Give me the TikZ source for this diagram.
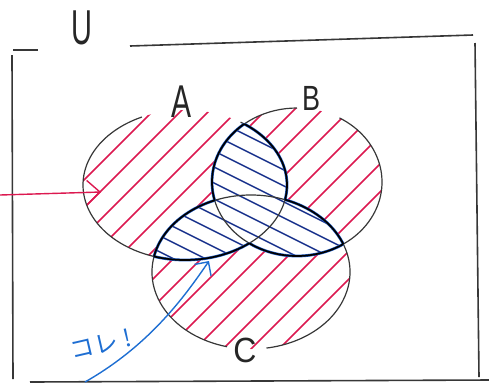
\documentclass[tikz,border=0pt]{standalone}
\usepackage{fontspec}
\usepackage{graphicx}
\setmainfont{Liberation Sans}
\newfontfamily\jpfont{Noto Sans CJK JP}
\usetikzlibrary{arrows.meta}
\definecolor{hatchred}{RGB}{220,25,80}
\definecolor{hatchblue}{RGB}{25,50,140}
\definecolor{traceblue}{RGB}{30,90,195}
\definecolor{arrowblue}{RGB}{30,110,210}
\definecolor{pencil}{RGB}{55,55,55}
\begin{document}
\begin{tikzpicture}[x=1pt,y=-1pt,
  pathA/.style={insert path={(185,185) ellipse [x radius=102, y radius=75]}},
  pathB/.style={insert path={(297,182) ellipse [x radius=85, y radius=74]}},
  pathC/.style={insert path={(251,272) ellipse [x radius=99, y radius=77]}},
  redlines/.style={draw=hatchred, line width=1.5pt},
  bluelines/.style={draw=hatchblue, line width=1.5pt},
  outline/.style={draw=pencil, line width=1.2pt},
  bluetrace/.style={draw=traceblue, line width=2.8pt},
  thickline/.style={draw=black, line width=1.7pt},
  framebox/.style={draw=pencil, line width=1.6pt},
  lbl/.style={inner sep=0pt, text=black!85},
  redarrow/.style={draw=hatchred, line width=1.4pt, -{Straight Barb[length=13pt,width=24pt]}},
  bluearrow/.style={draw=arrowblue, line width=1.4pt, -{Straight Barb[length=10pt,width=20pt]}}]
\useasboundingbox (0,0) rectangle (489,384);
% frame
\draw[framebox] (12,55) -- (13,379);
\draw[framebox] (13,50) -- (38,50);
\draw[framebox] (130,46) -- (473,35);
\draw[framebox] (475,43) -- (479,377);
\draw[framebox] (30,382) -- (489,380);
% red hatching in A, B, C
\foreach \p in {pathA,pathB,pathC}{
  \begin{scope}
    \clip[\p];
    \foreach \c in {180,208,...,780} \draw[redlines] (\c-400,400) -- (\c,0);
  \end{scope}
}
% pairwise intersections: white then blue hatching
\foreach \p/\q in {pathA/pathB,pathA/pathC,pathB/pathC}{
  \begin{scope}
    \clip[\p];
    \clip[\q];
    \fill[white] (0,0) rectangle (489,384);
    \foreach \d in {-100,-84,...,220} \draw[bluelines] (0,\d) -- (489,\d+244.5);
  \end{scope}
}
% thin outlines with gaps for labels
\draw[outline] (185,185) ++(-57:102 and 75) arc[start angle=-57,end angle=245,x radius=102,y radius=75];
\draw[outline] (297,182) ++(-60:85 and 74) arc[start angle=-60,end angle=270,x radius=85,y radius=74];
\draw[outline] (251,272) ++(104:99 and 77) arc[start angle=104,end angle=441,x radius=99,y radius=77];
% blue traces and heavy black along the outer edge of the pairwise region
\foreach \p/\q/\r in {pathA/pathB/pathC,pathB/pathA/pathC,pathC/pathA/pathB}{
  \begin{scope}[even odd rule]
    \clip[\q,\r];
    \draw[bluetrace,\p];
  \end{scope}
}
\foreach \p/\q/\r in {pathA/pathB/pathC,pathB/pathA/pathC,pathC/pathA/pathB}{
  \begin{scope}[even odd rule]
    \clip[\q,\r];
    \draw[thickline,\p];
  \end{scope}
}
% labels
\node[lbl] (labU) at (82,28) {\scalebox{1.45}[2.45]{\fontsize{20}{20}\selectfont U}};
\node[lbl] (labA) at (182,102) {\scalebox{1.5}[2.3]{\fontsize{20}{20}\selectfont A}};
\node[lbl] (labB) at (311,98) {\scalebox{1.35}[1.75]{\fontsize{20}{20}\selectfont B}};
\node[lbl] (labC) at (245,350) {\scalebox{1.6}[1.75]{\fontsize{20}{20}\selectfont C}};
\node[inner sep=0pt, text=arrowblue, rotate=13] (kore) at (101,344) {\jpfont\fontsize{24}{24}\selectfont コレ\hspace{6pt}!};
% arrows
\coordinate (rs) at (0,195);
\coordinate (rt) at (101,192);
\draw[redarrow] (rs) -- (rt);
\coordinate (bs) at (85,382);
\coordinate (bt) at (209,261);
\draw[bluearrow] (bs) .. controls (150,345) and (185,296) .. (bt);
\end{tikzpicture}
\end{document}
